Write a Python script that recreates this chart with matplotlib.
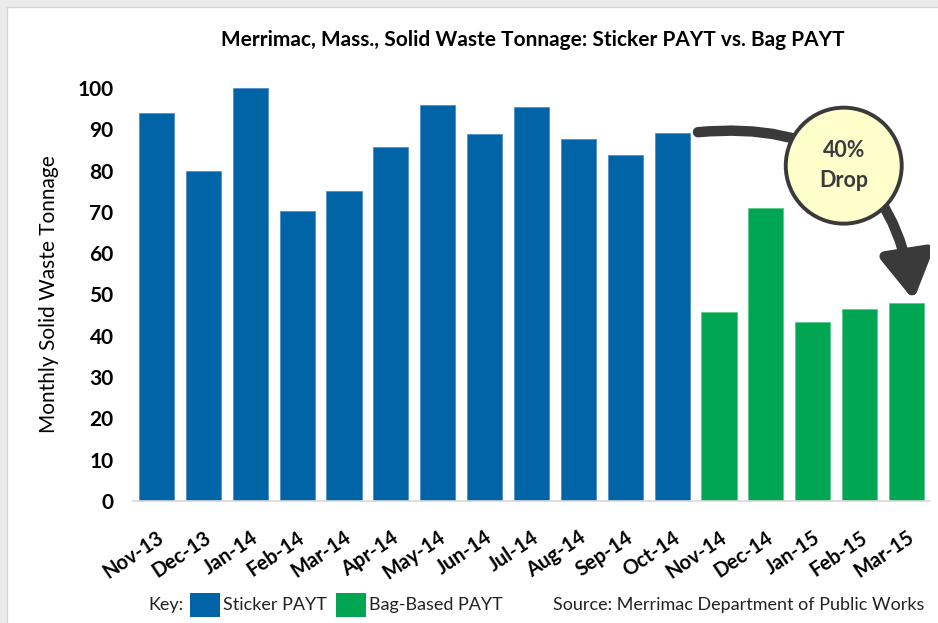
import numpy as np
import matplotlib
matplotlib.use('Agg')
import matplotlib.pyplot as plt
from matplotlib.patches import Rectangle, Ellipse, FancyArrowPatch

plt.rcParams['font.family'] = ['Lato', 'DejaVu Sans']

# ── Data ──────────────────────────────────────────────────────────────────────
months = ['Nov-13', 'Dec-13', 'Jan-14', 'Feb-14', 'Mar-14', 'Apr-14', 'May-14',
          'Jun-14', 'Jul-14', 'Aug-14', 'Sep-14', 'Oct-14',
          'Nov-14', 'Dec-14', 'Jan-15', 'Feb-15', 'Mar-15']
sticker_tons = [94.0, 79.9, 100.0, 70.2, 75.1, 85.7, 95.9, 88.8, 95.4, 87.6, 83.8, 89.1]
bag_tons     = [45.8, 70.9, 43.3, 46.5, 47.9]
yticks = [0, 10, 20, 30, 40, 50, 60, 70, 80, 90, 100]

BLUE  = '#0064A6'
GREEN = '#00A651'
DARK  = '#3a3a3a'

W, H = 938, 623
fig = plt.figure(figsize=(W / 100, H / 100), dpi=100)
fig.patch.set_facecolor('#ebebeb')
fig.patches.append(Rectangle((7 / W, -0.1), 1.2, (H - 7) / H + 0.1,
                             transform=fig.transFigure, facecolor='white',
                             edgecolor='#d4d4d4', linewidth=1, zorder=-1))

ax = fig.add_axes([133 / W, (H - 501) / H, (930 - 133) / W, (501 - 88) / H])
ax.set_facecolor('none')
ax.set_zorder(1)

x_st = np.arange(len(sticker_tons))
x_bag = np.arange(len(sticker_tons), len(months))
ax.bar(x_st, sticker_tons, width=0.75, color=BLUE, edgecolor='#4f8fc9', linewidth=0.6)
ax.bar(x_bag, bag_tons, width=0.75, color=GREEN, edgecolor='#5cc98d', linewidth=0.6)

ax.set_xlim(-0.5, len(months) - 0.5)
ax.set_ylim(0, 100)
ax.set_yticks(yticks)
ax.set_yticklabels([str(v) for v in yticks], fontsize=15, fontweight='bold')
ax.set_xticks(np.arange(len(months)))
ax.set_xticklabels(months, rotation=34, ha='right', rotation_mode='anchor',
                   fontsize=14.5, fontweight='bold')
ax.tick_params(axis='both', length=0)
ax.tick_params(axis='y', pad=14)
ax.tick_params(axis='x', pad=19)
for s in ['top', 'right', 'left']:
    ax.spines[s].set_visible(False)
ax.spines['bottom'].set_color('#d9d9d9')
ax.spines['bottom'].set_linewidth(1.2)

ax.set_ylabel('Monthly Solid Waste Tonnage', fontsize=15, labelpad=13)

fig.text(533 / W, 1 - 40 / H, 'Merrimac, Mass., Solid Waste Tonnage: Sticker PAYT vs. Bag PAYT',
         ha='center', va='center', fontsize=15, fontweight='bold')

# ── Drop annotation ──────────────────────────────────────────────────────────
arrow = FancyArrowPatch((11.55, 89.3), (16.15, 48.6),
                        connectionstyle='arc3,rad=-0.47',
                        arrowstyle='-|>,head_length=1.8,head_width=1.05',
                        mutation_scale=15, linewidth=7.5, color=DARK,
                        shrinkA=0, shrinkB=0, zorder=5)
ax.add_patch(arrow)
ax.add_patch(Ellipse((14.66, 81.2), 116 / 46.9, 116 / 4.13, facecolor='#ffffcc',
                     edgecolor=DARK, linewidth=2.8, zorder=6, clip_on=False))
ax.text(14.66, 81.2, '40%\nDrop', ha='center', va='center', fontsize=15.5,
        fontweight='bold', color=DARK, linespacing=1.55, zorder=7)

# ── Key / source line ────────────────────────────────────────────────────────
ky = 1 - 605 / H
fig.text(148 / W, ky, 'Key:', ha='left', va='center', fontsize=13, color='#222222')
fig.patches.append(Rectangle((190 / W, 1 - 617 / H), 30 / W, 24 / H,
                             transform=fig.transFigure, facecolor=BLUE, edgecolor='none'))
fig.text(223 / W, ky, 'Sticker PAYT', ha='left', va='center', fontsize=13, color='#222222')
fig.patches.append(Rectangle((336 / W, 1 - 617 / H), 30 / W, 24 / H,
                             transform=fig.transFigure, facecolor=GREEN, edgecolor='none'))
fig.text(369 / W, ky, 'Bag-Based PAYT', ha='left', va='center', fontsize=13, color='#222222')
fig.text(924 / W, ky, 'Source: Merrimac Department of Public Works', ha='right',
         va='center', fontsize=13, color='#222222')

fig.savefig('out.png', dpi=100, facecolor=fig.get_facecolor())
